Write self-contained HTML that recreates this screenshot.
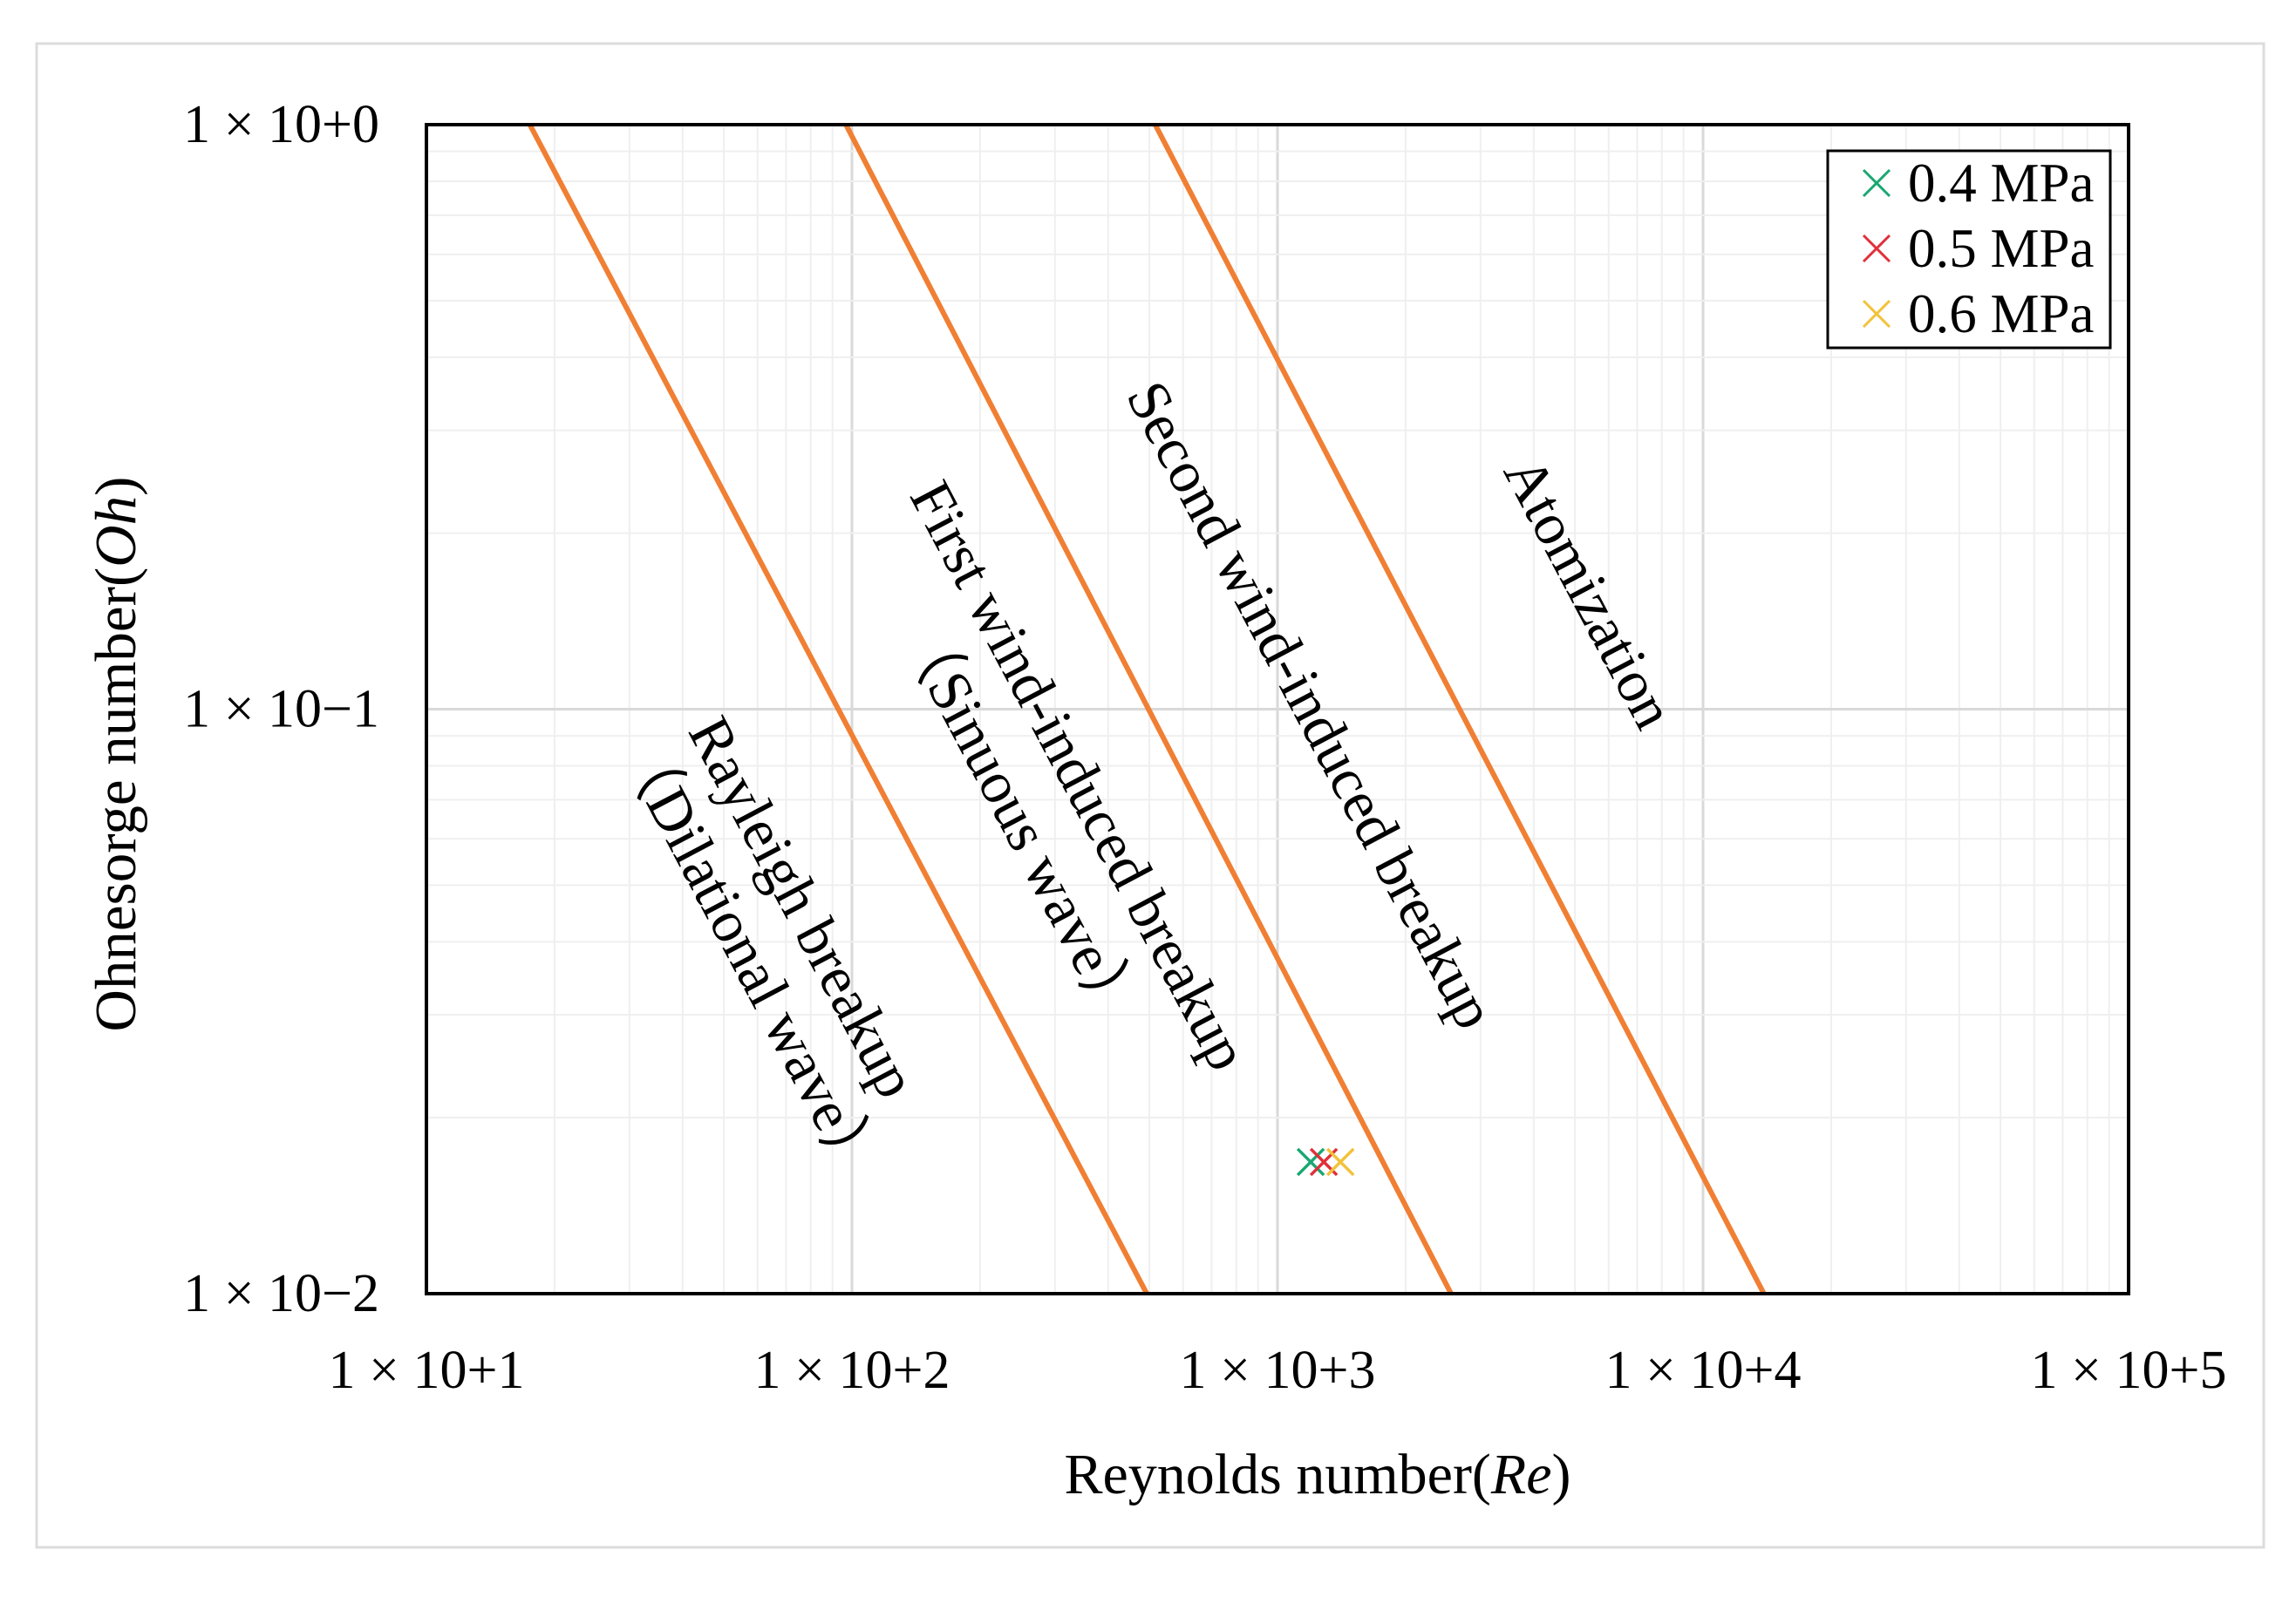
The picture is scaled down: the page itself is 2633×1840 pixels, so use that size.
<!DOCTYPE html>
<html><head><meta charset="utf-8"><style>
html,body{margin:0;padding:0;background:#fff;}
svg{display:block;font-family:"Liberation Serif",serif;}
</style></head><body>
<svg id="chart" width="2633" height="1840" viewBox="0 0 2633 1840">
<rect x="42" y="50" width="2554" height="1725" fill="#fff" stroke="#dcdcdc" stroke-width="3"/>
<g id="grid"></g>
<g id="lines"></g>
<g id="markers"></g>
<rect x="489" y="143" width="1952" height="1341" fill="none" stroke="#000" stroke-width="4"/>
<g id="ticks" font-size="62" fill="#000"></g>
<text x="1511" y="1713" font-size="66" text-anchor="middle">Reynolds number(<tspan font-style="italic">Re</tspan>)</text>
<text transform="translate(155,865) rotate(-90)" font-size="67" text-anchor="middle">Ohnesorge number(<tspan font-style="italic">Oh</tspan>)</text>
<g font-size="68" text-anchor="middle">
<text transform="translate(920,1041) rotate(62.2)" dy="22">Rayleigh breakup</text>
<text transform="translate(860,1100) rotate(62.2)" dy="22">（Dilational wave）</text>
<text transform="translate(1237,890) rotate(62.2)" dy="22">First wind-induced breakup</text>
<text transform="translate(1170,944) rotate(62.2)" dy="22">（Sinuous wave）</text>
<text transform="translate(1503,809) rotate(62.2)" dy="22">Second wind-induced breakup</text>
<text transform="translate(1822,680) rotate(62.2)" dy="22">Atomization</text>
</g>
<g id="legend">
<rect x="2096" y="173" width="324" height="226" fill="#fff" stroke="#000" stroke-width="3"/>
</g>
</svg>
<script>
const xTicks=[10,100,1000,10000,100000];
const xTickLabels=["1 × 10+1","1 × 10+2","1 × 10+3","1 × 10+4","1 × 10+5"];
const yTicks=[1,0.1,0.01];
const yTickLabels=["1 × 10+0","1 × 10−1","1 × 10−2"];
const boundaryNames=["rayleigh-boundary","first-wind-boundary","second-wind-boundary"];
const boundaryReTop=[17.5,96.8,516];
const boundaryReBottom=[493,2558,13900];
const boundaryOhTop=[1,1,1];
const boundaryOhBottom=[0.01,0.01,0.01];
const seriesNames=["0.4 MPa","0.5 MPa","0.6 MPa"];
const seriesColors=["#1aa772","#e0303a","#f2c23a"];
const seriesRe=[1197,1285,1406];
const seriesOh=[0.0168,0.0168,0.0168];

const NS="http://www.w3.org/2000/svg";
const L=489,R=2441,T=143,B=1484;
function xs(v){return L+(Math.log10(v)-1)/4*(R-L);}
function ys(v){return T+(0-Math.log10(v))/2*(B-T);}
function mk(tag,attrs,parent){const e=document.createElementNS(NS,tag);for(const k in attrs)e.setAttribute(k,attrs[k]);parent.appendChild(e);return e;}
const grid=document.getElementById('grid');
for(let d=1;d<5;d++){for(let m=1;m<10;m++){const v=Math.pow(10,d)*m;const x=xs(v);
 const g=mk('line',{x1:x,x2:x,y1:T,y2:B,stroke:m===1?'#d9d9d9':'#efefef','stroke-width':m===1?3:2},grid);
 
 }}
for(let d=-2;d<0;d++){for(let m=1;m<10;m++){const v=Math.pow(10,d)*m;const y=ys(v);
 const g=mk('line',{x1:L,x2:R,y1:y,y2:y,stroke:m===1?'#d9d9d9':'#efefef','stroke-width':m===1?3:2},grid);
 
 }}
const lines=document.getElementById('lines');
for(let i=0;i<boundaryReTop.length;i++){
 const l=mk('line',{x1:xs(boundaryReTop[i]),y1:ys(boundaryOhTop[i]),x2:xs(boundaryReBottom[i]),y2:ys(boundaryOhBottom[i]),stroke:'#f07f34','stroke-width':6},lines);
 
 }
function cross(parent,cx,cy,s,col,w){const g=mk('g',{},parent);
 mk('line',{x1:cx-s,y1:cy-s,x2:cx+s,y2:cy+s,stroke:col,'stroke-width':w},g);
 mk('line',{x1:cx-s,y1:cy+s,x2:cx+s,y2:cy-s,stroke:col,'stroke-width':w},g);return g;}
const markers=document.getElementById('markers');
for(let i=0;i<seriesRe.length;i++){
 const g=cross(markers,xs(seriesRe[i]),ys(seriesOh[i]),15,seriesColors[i],3.5);
 
 }
const ticks=document.getElementById('ticks');
for(let i=0;i<xTicks.length;i++){
 const t=mk('text',{x:xs(xTicks[i]),y:1592,'text-anchor':'middle'},ticks);t.textContent=xTickLabels[i];
 
 }
for(let i=0;i<yTicks.length;i++){
 const t=mk('text',{x:435,y:ys(yTicks[i])+20,'text-anchor':'end'},ticks);t.textContent=yTickLabels[i];
 
 }
const legend=document.getElementById('legend');
for(let i=0;i<seriesNames.length;i++){const y=210+i*75;
 const c=cross(legend,2152,y,15,seriesColors[i],3);
 
 
 const t=mk('text',{x:2188,y:y+21,'font-size':63},legend);t.textContent=seriesNames[i];
 
 }
</script>
</body></html>
